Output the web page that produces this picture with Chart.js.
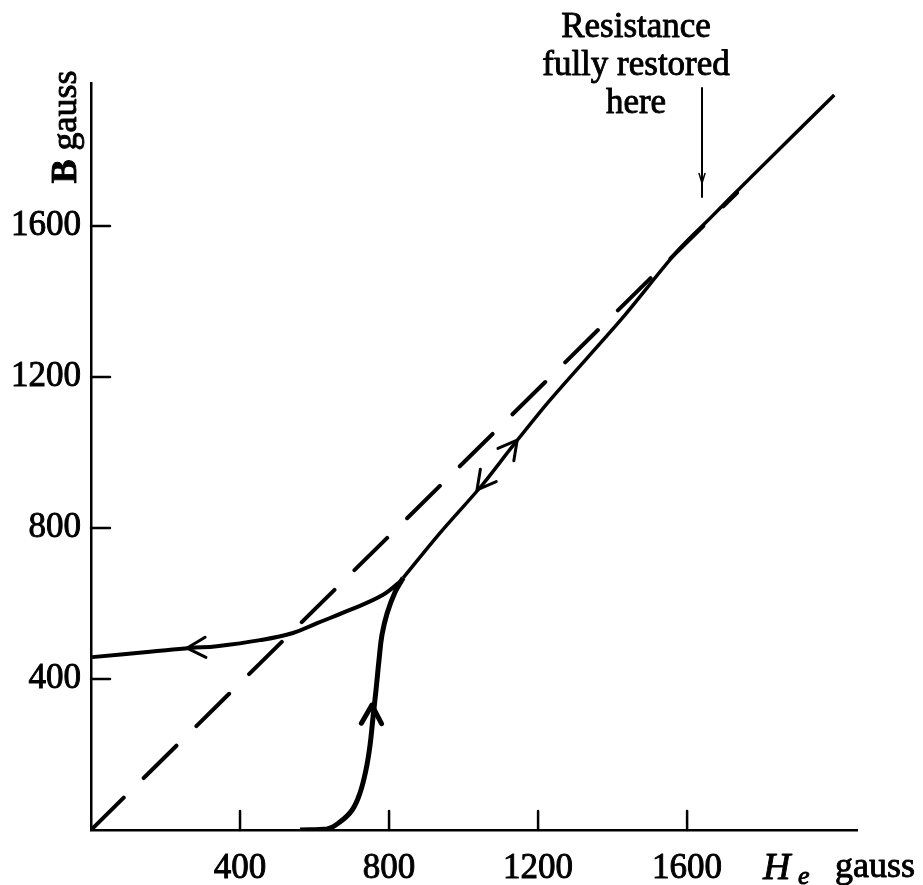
<!DOCTYPE html>
<html>
<head>
<meta charset="utf-8">
<script src="https://cdn.jsdelivr.net/npm/chart.js@4.4.1/dist/chart.umd.min.js"></script>
<style>
  html, body { margin: 0; padding: 0; background: #fff; }
  #wrap { width: 923px; height: 885px; }
</style>
</head>
<body>
<div id="wrap"><canvas id="chart" width="923" height="885"></canvas></div>
<script>
// axis ticks (gauss)
const xTicks = [400, 800, 1200, 1600];
const yTicks = [400, 800, 1200, 1600];

// rising branch, leaving the H axis
const riseH = [561, 634, 668, 701, 722, 738, 749, 757, 765, 773, 781, 795, 816, 838];
const riseB = [0, 3, 21, 53, 98, 159, 225, 299, 371, 450, 517, 575, 630, 668];

// return branch down to the B axis
const fallH = [3, 158, 266, 338, 454, 542, 607, 695, 784, 838];
const fallB = [458, 472, 482, 487, 503, 522, 548, 583, 623, 665];

// shared branch, from the junction up
const mainH = [838, 937, 1050, 1130, 1232, 1426, 1576, 1662, 1769, 1995];
const mainB = [668, 787, 914, 1015, 1139, 1356, 1536, 1621, 1727, 1947];

// straight B = H reference
const refH = [0, 1734];
const refB = [0, 1688];

// direction arrows: tip and a point just behind it on the curve
const arrowTipH = [258, 754, 1144, 1036];
const arrowTipB = [482, 331, 1033, 901];
const arrowBackH = [330, 752, 1110, 1070];
const arrowBackB = [485, 250, 990, 944];
const arrowWidth = [3, 5, 3, 3];

// where the resistance comes back
const restoredH = 1640;
const restoredTop = 1966;
const restoredTip = 1677;
const noteLines = ['Resistance', 'fully restored', 'here'];

const SERIF = '"Liberation Serif", "Times New Roman", serif';

function pts(xs, ys) {
  return xs.map((v, i) => ({ x: v, y: ys[i] }));
}

function seg(ctx, x1, y1, x2, y2) {
  ctx.beginPath();
  ctx.moveTo(x1, y1);
  ctx.lineTo(x2, y2);
  ctx.stroke();
}

function chevron(ctx, tx, ty, bx, by, len, spread) {
  const a = Math.atan2(ty - by, tx - bx);
  ctx.beginPath();
  ctx.moveTo(tx - len * Math.cos(a - spread), ty - len * Math.sin(a - spread));
  ctx.lineTo(tx, ty);
  ctx.lineTo(tx - len * Math.cos(a + spread), ty - len * Math.sin(a + spread));
  ctx.stroke();
}

// filled text with a thin outline so it reads as heavy as print
function inkText(ctx, t, x, y) {
  ctx.fillText(t, x, y);
  ctx.strokeText(t, x, y);
}

// inward tick marks, arrows and the free text
const extras = {
  id: 'extras',
  afterDraw(chart) {
    const { ctx } = chart;
    const x = chart.scales.x, y = chart.scales.y;
    const area = chart.chartArea;
    ctx.save();
    ctx.strokeStyle = '#000';
    ctx.fillStyle = '#000';
    ctx.lineCap = 'round';
    ctx.lineJoin = 'round';

    ctx.lineWidth = 2.5;
    xTicks.forEach(v => {
      const px = x.getPixelForValue(v);
      seg(ctx, px, area.bottom, px, area.bottom - 19);
    });
    yTicks.forEach(v => {
      const py = y.getPixelForValue(v);
      seg(ctx, area.left, py, area.left + 19, py);
    });

    arrowTipH.forEach((h, i) => {
      ctx.lineWidth = arrowWidth[i];
      chevron(ctx,
        x.getPixelForValue(h), y.getPixelForValue(arrowTipB[i]),
        x.getPixelForValue(arrowBackH[i]), y.getPixelForValue(arrowBackB[i]),
        21, 0.5);
    });

    // pointer to the line
    const ax = x.getPixelForValue(restoredH);
    const ay1 = y.getPixelForValue(restoredTop);
    const ay2 = y.getPixelForValue(restoredTip);
    ctx.lineWidth = 2;
    seg(ctx, ax, ay1, ax, ay2);
    ctx.lineWidth = 1.5;
    chevron(ctx, ax, ay2 - 14, ax, ay2 - 30, 10, 0.3);

    ctx.lineWidth = 0.9;
    ctx.font = '35px ' + SERIF;
    ctx.textAlign = 'center';
    ctx.textBaseline = 'alphabetic';
    noteLines.forEach((t, i) => inkText(ctx, t, ax - 66, 37 + i * 38));

    // B axis title, rotated
    ctx.save();
    ctx.translate(76, 127);
    ctx.rotate(-Math.PI / 2);
    ctx.textAlign = 'left';
    ctx.font = 'bold 36px ' + SERIF;
    const bw = ctx.measureText('B ').width;
    ctx.font = '36px ' + SERIF;
    const gw = ctx.measureText('gauss').width;
    const start = -(bw + gw) / 2;
    ctx.font = 'bold 36px ' + SERIF;
    inkText(ctx, 'B', start, 0);
    ctx.font = '36px ' + SERIF;
    inkText(ctx, 'gauss', start + bw, 0);
    ctx.restore();

    // H axis title with subscript e
    ctx.textAlign = 'left';
    ctx.font = 'italic 38px ' + SERIF;
    inkText(ctx, 'H', 763, 879);
    ctx.font = 'italic 26px ' + SERIF;
    inkText(ctx, 'e', 798, 884);
    ctx.font = '36px ' + SERIF;
    inkText(ctx, 'gauss', 835, 877);
    ctx.restore();
  }
};

const tickFont = { family: SERIF, size: 35 };
const tickLabel = v => String(v);

new Chart(document.getElementById('chart'), {
  type: 'scatter',
  data: {
    datasets: [
      { data: pts(refH, refB), showLine: true, borderColor: '#000', borderWidth: 4,
        borderDash: [46, 28], borderCapStyle: 'round', tension: 0 },
      { data: pts(riseH, riseB), showLine: true, borderColor: '#000', borderWidth: 5, tension: 0.4 },
      { data: pts(fallH, fallB), showLine: true, borderColor: '#000', borderWidth: 4, tension: 0.4 },
      { data: pts(mainH, mainB), showLine: true, borderColor: '#000', borderWidth: 3.5, tension: 0.3 }
    ]
  },
  options: {
    responsive: false,
    animation: false,
    layout: { padding: { top: 83, right: 66, left: 0, bottom: 0 } },
    elements: { point: { radius: 0, hoverRadius: 0 } },
    plugins: { legend: { display: false }, tooltip: { enabled: false } },
    scales: {
      x: {
        type: 'linear', min: 0, max: 2056,
        afterFit: s => { s.height = 55; },
        afterBuildTicks: s => { s.ticks = xTicks.map(v => ({ value: v })); },
        grid: { display: false },
        border: { display: true, color: '#000', width: 2.5 },
        ticks: { font: tickFont, color: '#000', padding: 10, maxRotation: 0,
          textStrokeColor: '#000', textStrokeWidth: 0.9, callback: tickLabel }
      },
      y: {
        type: 'linear', min: 0, max: 1979,
        afterFit: s => { s.width = 91; },
        afterBuildTicks: s => { s.ticks = yTicks.map(v => ({ value: v })); },
        grid: { display: false },
        border: { display: true, color: '#000', width: 2.5 },
        ticks: { font: tickFont, color: '#000', padding: 2,
          textStrokeColor: '#000', textStrokeWidth: 0.9, callback: tickLabel }
      }
    }
  },
  plugins: [extras]
});
</script>
</body>
</html>
